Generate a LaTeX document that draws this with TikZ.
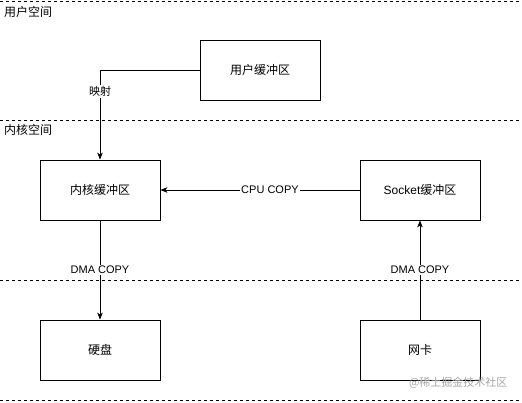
\documentclass[tikz,border=0pt]{standalone}
\usepackage{fontspec}
\setmainfont{Liberation Sans}
\newfontfamily\cjk{Noto Sans CJK SC}
\usetikzlibrary{arrows.meta, positioning}

\begin{document}
\begin{tikzpicture}[
    x=1pt, y=-1pt,
    every node/.style={font=\fontsize{12}{14}\selectfont},
    buf/.style={draw, line width=0.8pt, minimum width=120pt, minimum height=60pt, inner sep=0pt},
    flow/.style={-{Stealth[length=7pt, width=5.5pt, inset=2pt]}, line width=0.8pt},
    lbl/.style={fill=white, inner sep=1pt, font=\fontsize{11}{13}\selectfont},
    zone/.style={dashed, dash pattern=on 3pt off 3pt, line width=0.8pt},
  ]
  \useasboundingbox (0,0) rectangle (522,402);

  % space borders
  \draw[zone] (0,1) -- (522,1);
  \draw[zone] (0,120) -- (522,120);
  \draw[zone] (0,280) -- (522,280);
  \draw[zone] (0,400) -- (522,400);
  \node[anchor=west, inner sep=0pt] (us) at (4,12) {\cjk 用户空间};
  \node[anchor=west, inner sep=0pt] (ks) at (4,130) {\cjk 内核空间};

  % buffers and devices
  \node[buf] (ubuf) at (260,70) {\cjk 用户缓冲区};
  \node[buf] (kbuf) at (100,190) {\cjk 内核缓冲区};
  \node[buf] (sbuf) at (420,190) {Socket{\cjk 缓冲区}};
  \node[buf] (disk) at (100,350) {\cjk 硬盘};
  \node[buf] (nic) at (420,350) {\cjk 网卡};

  % copies
  \draw[flow] (ubuf.west) -| node[lbl, pos=0.62] {\cjk 映射} (kbuf.north);
  \draw[flow] (sbuf.west) -- node[lbl, pos=0.45] {CPU COPY} (kbuf.east);
  \draw[flow] (kbuf.south) -- node[lbl] {DMA COPY} (disk.north);
  \draw[flow] (nic.north) -- node[lbl] {DMA COPY} (sbuf.south);

  \node[anchor=east, text=black!35, font=\fontsize{11}{13}\selectfont] (mark) at (511,383) {\cjk @稀土掘金技术社区};
\end{tikzpicture}
\end{document}
